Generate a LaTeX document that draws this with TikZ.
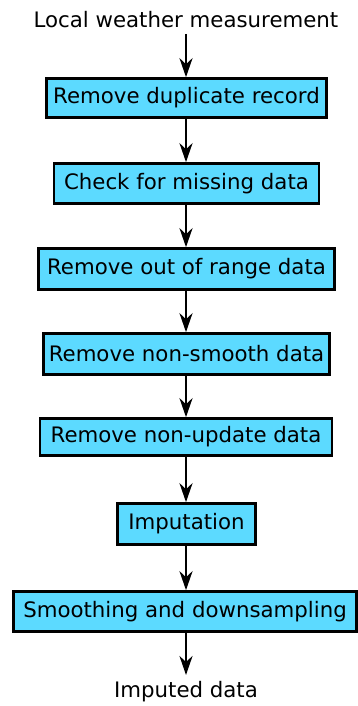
\documentclass[tikz,border=0pt]{standalone}
\usepackage{fontspec}
\setmainfont{DejaVu Sans}
\usetikzlibrary{arrows.meta}
\definecolor{boxfill}{HTML}{5CDAFF}
\tikzset{
  stepbox/.style={draw=black, fill=boxfill, line width=2.6pt, inner sep=0pt,
    font=\fontsize{21.3}{25}\selectfont, align=center},
  plain/.style={inner sep=0pt, font=\fontsize{21.3}{25}\selectfont},
  flow/.style={line width=2.4pt, -{Stealth[length=19pt, width=13pt, inset=6pt]}},
}
\begin{document}
\begin{tikzpicture}[x=1pt, y=-1pt]
\useasboundingbox (0,0) rectangle (358,706);
\node[plain] (src) at (186,20) {Local weather measurement};
\node[stepbox, minimum width=280pt, minimum height=39pt] (dup) at (186.5,98) {Remove duplicate record};
\node[stepbox, minimum width=265pt, minimum height=40pt] (miss) at (186.5,183.5) {Check for missing data};
\node[stepbox, minimum width=296pt, minimum height=41pt] (range) at (186.5,269) {Remove out of range data};
\node[stepbox, minimum width=286pt, minimum height=41pt] (smooth) at (186.5,354) {Remove non-smooth data};
\node[stepbox, minimum width=292pt, minimum height=37pt] (upd) at (186,437) {Remove non-update data};
\node[stepbox, minimum width=138pt, minimum height=41pt] (imp) at (186.5,524) {Imputation};
\node[stepbox, minimum width=343pt, minimum height=40pt] (sd) at (185,611.5) {Smoothing and downsampling};
\node[plain] (out) at (186,692) {Imputed data};
\coordinate (srcb) at (186,34);
\coordinate (outt) at (186,675);
\draw[flow] (srcb) -- (srcb |- dup.north);
\draw[flow] (dup.south -| srcb) -- (miss.north -| srcb);
\draw[flow] (miss.south -| srcb) -- (range.north -| srcb);
\draw[flow] (range.south -| srcb) -- (smooth.north -| srcb);
\draw[flow] (smooth.south -| srcb) -- (upd.north -| srcb);
\draw[flow] (upd.south -| srcb) -- (imp.north -| srcb);
\draw[flow] (imp.south -| srcb) -- (sd.north -| srcb);
\draw[flow] (sd.south -| srcb) -- (outt);
\end{tikzpicture}
\end{document}
